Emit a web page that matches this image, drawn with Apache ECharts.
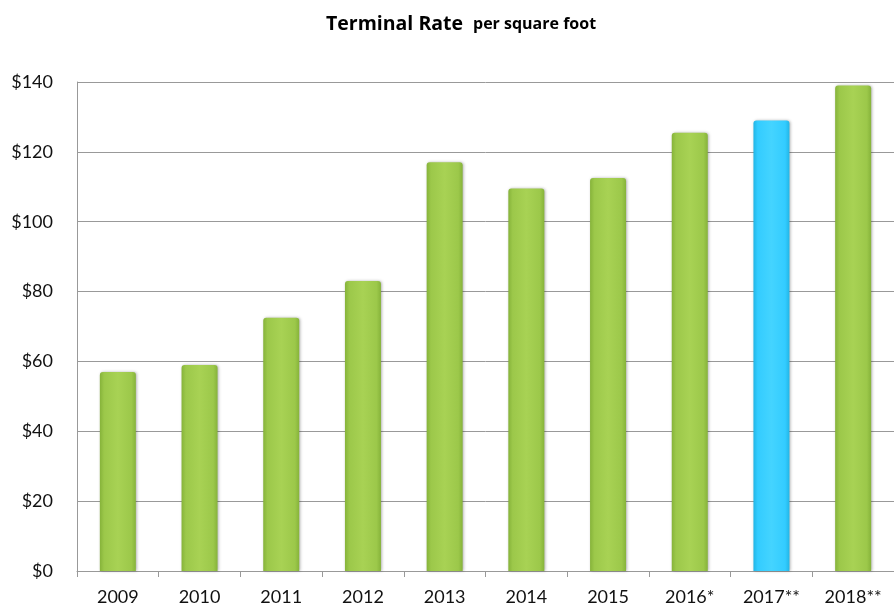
<!DOCTYPE html>
<html><head><meta charset="utf-8">
<script src="https://cdn.jsdelivr.net/npm/echarts@6/dist/echarts.min.js"></script>
<style>html,body{margin:0;padding:0;background:#fff}#c{width:894px;height:609px}</style>
</head><body><div id="c"></div>
<script>
const categories = ['2009','2010','2011','2012','2013','2014','2015','2016*','2017**','2018**'];
const values = [57, 59, 72.5, 83, 117, 109.5, 112.5, 125.5, 129, 139];
const highlightCategory = '2017**';
const yTicks = [0, 20, 40, 60, 80, 100, 120, 140];

function grad(edge, mid, light){
  return new echarts.graphic.LinearGradient(0,0,1,0,[
    {offset:0,color:edge},{offset:0.12,color:mid},{offset:0.5,color:light},{offset:0.88,color:mid},{offset:1,color:edge}
  ]);
}
const green = grad('#86b33a','#9cc84a','#a8d254');
const blue = grad('#22b6e6','#33ccff','#44d4ff');

const chart = echarts.init(document.getElementById('c'));
chart.setOption({
  animation:false,
  title:{
    text:'{a|Terminal Rate}  {b|per square foot}',
    left:321, top:9,
    textStyle:{rich:{
      a:{fontFamily:'Open Sans',fontWeight:'bold',fontSize:19.5,color:'#000'},
      b:{fontFamily:'Open Sans',fontWeight:'bold',fontSize:16,color:'#000'}
    }}
  },
  grid:{left:77, top:82, width:820, bottom:38, containLabel:false},
  xAxis:{
    type:'category', data:categories,
    axisLine:{show:true,lineStyle:{color:'#999',width:1}},
    axisTick:{show:true,length:6,lineStyle:{color:'#999'},alignWithLabel:false},
    axisLabel:{fontFamily:'Lato',fontSize:18,color:'#111',margin:17}
  },
  yAxis:{
    type:'value', min:yTicks[0], max:yTicks[yTicks.length-1], interval:20,
    axisLine:{show:true,lineStyle:{color:'#999',width:1}},
    axisTick:{show:false},
    splitLine:{lineStyle:{color:'#999',width:1}},
    axisLabel:{fontFamily:'Lato',fontSize:18,color:'#111',margin:24,formatter:v=>'$'+v}
  },
  series:[{
    type:'bar', barWidth:36,
    data: values.map((v,i)=>({value:v,itemStyle:{color: categories[i]===highlightCategory?blue:green}})),
    itemStyle:{borderRadius:[3,3,0,0],shadowColor:'rgba(0,0,0,0.3)',shadowBlur:3,shadowOffsetX:1,shadowOffsetY:0}
  }]
});
</script></body></html>
